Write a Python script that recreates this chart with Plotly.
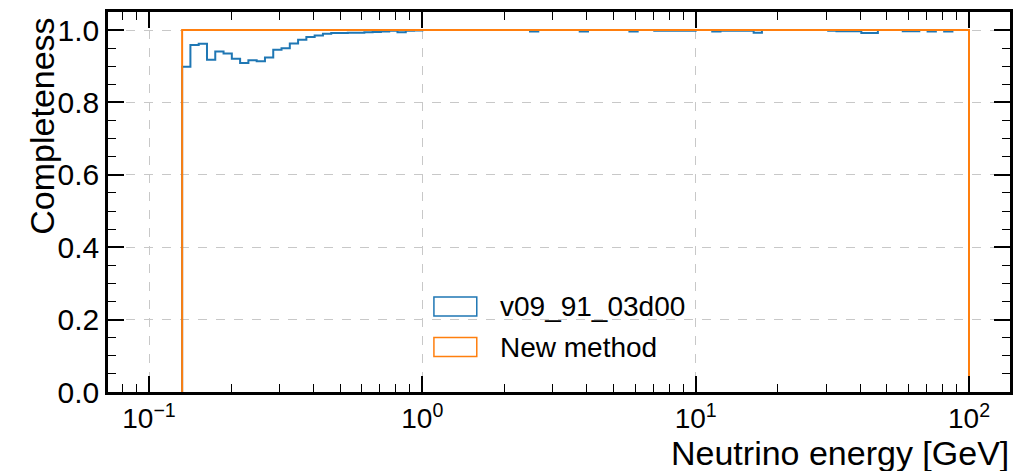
import numpy as np
import plotly.graph_objects as go

# Bin edges: 99 log-spaced bins from 0.1 to 100 GeV
bin_edges = np.logspace(-1, 2, 100)

# Completeness per bin; empty bins are 0
v09_91_03d00 = [
    0, 0, 0, 0,
    0.899, 0.959, 0.962, 0.918, 0.941, 0.935, 0.921, 0.909, 0.917, 0.914,
    0.924, 0.946, 0.950, 0.963, 0.973, 0.981, 0.985, 0.990, 0.992, 0.992,
    0.993, 0.993, 0.994, 0.995, 0.996, 0.998, 0.994, 0.998, 0.999,
    1.0, 1.0, 1.0, 1.0, 1.0, 1.0, 1.0, 1.0, 1.0, 1.0, 1.0, 1.0, 1.0,
    0.996, 1.0, 1.0, 1.0, 1.0, 1.0, 0.996, 1.0, 1.0, 1.0, 1.0, 1.0,
    0.996, 1.0, 1.0, 0.998, 0.998, 0.998, 0.998, 0.998, 1.0, 1.0,
    0.996, 0.998, 0.998, 0.998, 0.998, 0.993, 1.0, 1.0, 1.0, 1.0,
    1.0, 1.0, 1.0, 1.0, 0.998, 0.997, 0.997, 0.997, 0.992, 0.992,
    1.0, 1.0, 1.0, 0.997, 0.997, 1.0, 0.996, 1.0, 0.996, 1.0, 1.0,
]
new_method = [0, 0, 0, 0] + [1.0] * 95

series_names = ["v09_91_03d00", "New method"]
series_colors = ["#1f77b4", "#ff7f0e"]

x_tickvals = [0.1, 1, 10, 100]
x_ticktext = ["10<sup>\u22121</sup>", "10<sup>0</sup>", "10<sup>1</sup>", "10<sup>2</sup>"]
y_tickvals = [0.0, 0.2, 0.4, 0.6, 0.8, 1.0]
y_ticktext = ["0.0", "0.2", "0.4", "0.6", "0.8", "1.0"]

FONT = "Liberation Sans, Arial, sans-serif"


def step_xy(edges, vals):
    # skip leading empty bins (matplotlib draws them on the axis line)
    i0 = next(i for i, v in enumerate(vals) if v > 0)
    e = list(edges[i0:])
    v = list(vals[i0:])
    xs = [e[0]] + e[:-1] + [e[-1], e[-1]]
    ys = [0] + v + [v[-1], 0]
    return xs, ys


fig = go.Figure()
for vals, name, col in zip([v09_91_03d00, new_method], series_names, series_colors):
    xs, ys = step_xy(bin_edges, vals)
    fig.add_trace(go.Scatter(x=xs, y=ys, mode="lines", line=dict(color=col, width=2, shape="hv"),
                             name=name, showlegend=False, hoverinfo="skip"))

x_minor = [m * 10.0 ** k for k in range(-2, 3) for m in range(2, 10)]
x_minor = [v for v in x_minor if 0.0708 < v < 141]

W, H = 1016, 471
L, R, T, B = 108, 3, 12, 79
pw, ph = W - L - R, H - T - B


def px(xpix):
    return (xpix - L) / pw


def py(ypix):
    return (H - B - ypix) / ph


fig.update_layout(
    width=W, height=H,
    margin=dict(l=L, r=R, t=T, b=B),
    plot_bgcolor="white", paper_bgcolor="white",
    font=dict(family=FONT, size=28, color="black"),
    showlegend=False,
    xaxis=dict(
        type="log", range=[-1.15, 2.15],
        tickmode="array", tickvals=x_tickvals, ticktext=x_ticktext,
        ticks="inside", ticklen=16, tickwidth=1.6, tickcolor="black",
        showline=True, linewidth=2.5, linecolor="black", mirror="allticks",
        showgrid=True, gridcolor="#c8c8c8", griddash="dash", gridwidth=1,
        zeroline=False,
        tickfont=dict(size=28),
        minor=dict(tickmode="array", tickvals=x_minor, ticks="inside", ticklen=8,
                   tickwidth=1.2, tickcolor="black", showgrid=False),
    ),
    yaxis=dict(
        range=[0, 1.05],
        tickmode="array", tickvals=y_tickvals, ticktext=y_ticktext,
        ticks="inside", ticklen=16, tickwidth=1.6, tickcolor="black",
        showline=True, linewidth=2.5, linecolor="black", mirror="allticks",
        showgrid=True, gridcolor="#c8c8c8", griddash="dash", gridwidth=1,
        zeroline=False,
        tickfont=dict(size=30),
        minor=dict(dtick=0.05, tick0=0, ticks="inside", ticklen=8,
                   tickwidth=1.2, tickcolor="black", showgrid=False),
    ),
)

# Axis titles (matplotlib/mplhep style: right / top aligned)
fig.add_annotation(text="Neutrino energy [GeV]", xref="paper", yref="paper",
                   x=1.0, y=py(433), xanchor="right", yanchor="top",
                   borderpad=0, showarrow=False, font=dict(size=34, family=FONT))
fig.add_annotation(text="Completeness", xref="paper", yref="paper",
                   x=px(41), y=py(16), xanchor="center", yanchor="top", textangle=-90,
                   showarrow=False, font=dict(size=34, family=FONT))

# Legend (outlined patches)
leg_y = [306.5, 347]
for name, col, yc in zip(series_names, series_colors, leg_y):
    fig.add_shape(type="rect", xref="paper", yref="paper",
                  x0=px(435), x1=px(478), y0=py(yc + 9.5), y1=py(yc - 9.5),
                  line=dict(color=col, width=1.5), fillcolor="rgba(0,0,0,0)")
    fig.add_annotation(text=name, xref="paper", yref="paper",
                       x=px(499), y=py(yc), xanchor="left", yanchor="middle",
                       showarrow=False, font=dict(size=28, family=FONT))

fig.write_html("out.html")
